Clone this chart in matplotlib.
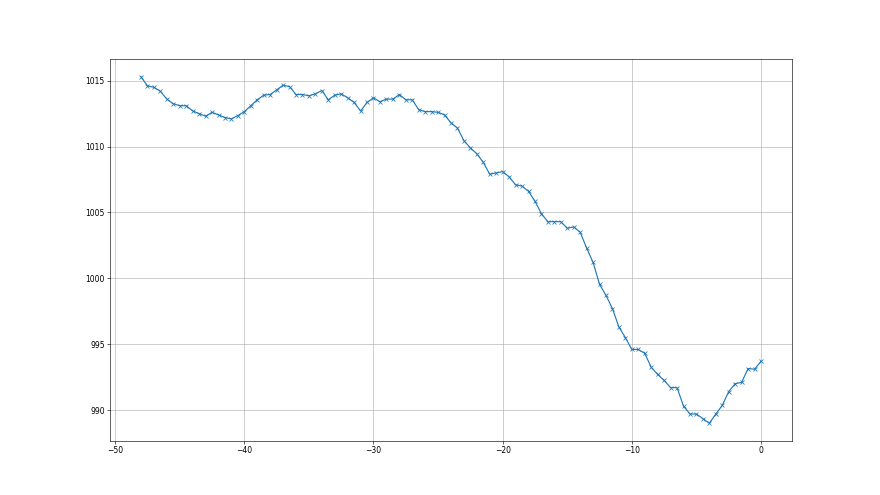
import numpy as np
import matplotlib.pyplot as plt

# hours before now (0.5 h steps) and pressure readings
hours = np.arange(-48, 0.5, 0.5)
pressure = [
    1015.3, 1014.6, 1014.5, 1014.2, 1013.6, 1013.25, 1013.1, 1013.1,
    1012.7, 1012.5, 1012.3, 1012.6, 1012.4, 1012.2, 1012.1, 1012.35,
    1012.65, 1013.1, 1013.55, 1013.9, 1013.95, 1014.3, 1014.65, 1014.55,
    1013.95, 1013.95, 1013.85, 1014.0, 1014.25, 1013.55, 1013.9, 1014.0,
    1013.7, 1013.35, 1012.7, 1013.35, 1013.7, 1013.4, 1013.6, 1013.6,
    1013.95, 1013.55, 1013.55, 1012.8, 1012.65, 1012.65, 1012.6, 1012.4,
    1011.8, 1011.4, 1010.45, 1009.9, 1009.45, 1008.8, 1007.9, 1008.0,
    1008.1, 1007.7, 1007.1, 1007.0, 1006.6, 1005.85, 1004.9, 1004.3,
    1004.3, 1004.3, 1003.8, 1003.9, 1003.5, 1002.3, 1001.2, 999.55,
    998.7, 997.7, 996.3, 995.5, 994.6, 994.6, 994.3, 993.25,
    992.7, 992.25, 991.7, 991.7, 990.3, 989.7, 989.7, 989.35,
    989.0, 989.7, 990.35, 991.4, 992.0, 992.1, 993.15, 993.1,
    993.7,
]

plt.figure(figsize=(16, 9), dpi=55)
plt.plot(hours, pressure, marker='x')
plt.grid(True)
plt.savefig('out.png', dpi=55)
